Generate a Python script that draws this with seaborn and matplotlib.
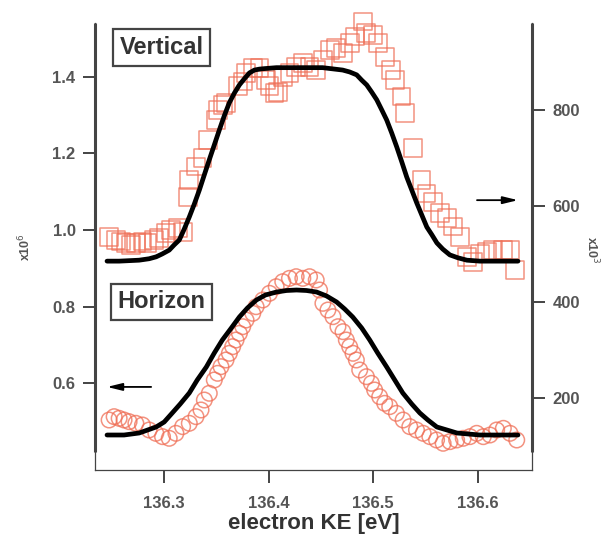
import matplotlib
matplotlib.use("Agg")
import matplotlib.pyplot as plt
import seaborn as sns

# ---- horizontally polarised signal (left axis, x10^6) ----
horizon_ke = [136.2473, 136.2521, 136.2569, 136.2616, 136.2664, 136.2729, 136.2792, 136.2856,
              136.2920, 136.2984, 136.3048, 136.3112, 136.3176, 136.3240, 136.3304, 136.3352,
              136.3384, 136.3431, 136.3479, 136.3511, 136.3543, 136.3591, 136.3623, 136.3655,
              136.3687, 136.3719, 136.3751, 136.3783, 136.3847, 136.3879, 136.3943, 136.4007,
              136.4071, 136.4134, 136.4198, 136.4262, 136.4326, 136.4390, 136.4454, 136.4486,
              136.4518, 136.4566, 136.4614, 136.4662, 136.4710, 136.4742, 136.4774, 136.4806,
              136.4838, 136.4870, 136.4934, 136.4982, 136.5013, 136.5061, 136.5109, 136.5157,
              136.5221, 136.5285, 136.5349, 136.5413, 136.5477, 136.5541, 136.5605, 136.5668,
              136.5733, 136.5797, 136.5860, 136.5924, 136.5989, 136.6052, 136.6116, 136.6180,
              136.6244, 136.6308, 136.6372]
horizon_counts = [0.5048, 0.5135, 0.5092, 0.5048, 0.5005, 0.4962, 0.4918, 0.4788,
                  0.4701, 0.4614, 0.4571, 0.4701, 0.4875, 0.4962, 0.5135, 0.5309,
                  0.5569, 0.5744, 0.6091, 0.6265, 0.6438, 0.6612, 0.6786, 0.6959,
                  0.7133, 0.7307, 0.7480, 0.7654, 0.7828, 0.8001, 0.8176, 0.8350,
                  0.8523, 0.8653, 0.8740, 0.8783, 0.8740, 0.8783, 0.8697, 0.8436,
                  0.8089, 0.7915, 0.7741, 0.7480, 0.7350, 0.7133, 0.6959, 0.6786,
                  0.6612, 0.6351, 0.6177, 0.6004, 0.5830, 0.5656, 0.5483, 0.5396,
                  0.5222, 0.5048, 0.4875, 0.4788, 0.4701, 0.4614, 0.4527, 0.4441,
                  0.4484, 0.4527, 0.4571, 0.4614, 0.4701, 0.4614, 0.4657, 0.4788,
                  0.4831, 0.4701, 0.4527]
horizon_fit_ke = [136.2453, 136.2616, 136.2760, 136.2923, 136.3000, 136.3077, 136.3153,
                  136.3240, 136.3316, 136.3403, 136.3479, 136.3556, 136.3642, 136.3719,
                  136.3796, 136.3882, 136.3968, 136.4074, 136.4170, 136.4266, 136.4361,
                  136.4457, 136.4553, 136.4649, 136.4726, 136.4803, 136.4889, 136.4966,
                  136.5042, 136.5128, 136.5205, 136.5282, 136.5368, 136.5445, 136.5522,
                  136.5608, 136.5704, 136.5800, 136.6020, 136.6384]
horizon_fit = [0.4657, 0.4657, 0.4709, 0.4866, 0.4996, 0.5231, 0.5465,
               0.5752, 0.6091, 0.6430, 0.6794, 0.7133, 0.7446, 0.7733,
               0.7967, 0.8176, 0.8306, 0.8384, 0.8423, 0.8436, 0.8423,
               0.8384, 0.8280, 0.8124, 0.7941, 0.7733, 0.7446, 0.7133,
               0.6794, 0.6430, 0.6091, 0.5752, 0.5465, 0.5231, 0.5048,
               0.4866, 0.4788, 0.4709, 0.4657, 0.4657]

# ---- vertically polarised signal (right axis, x10^3) ----
vertical_ke = [136.2473, 136.2537, 136.2585, 136.2633, 136.2681, 136.2729, 136.2792, 136.2840,
               136.2904, 136.2952, 136.3016, 136.3064, 136.3128, 136.3176, 136.3224, 136.3240,
               136.3304, 136.3367, 136.3415, 136.3496, 136.3511, 136.3559, 136.3591, 136.3703,
               136.3751, 136.3783, 136.3847, 136.3911, 136.3975, 136.4007, 136.4055, 136.4087,
               136.4134, 136.4198, 136.4262, 136.4326, 136.4390, 136.4454, 136.4518, 136.4582,
               136.4646, 136.4710, 136.4774, 136.4822, 136.4901, 136.4934, 136.4997, 136.5045,
               136.5109, 136.5173, 136.5205, 136.5269, 136.5301, 136.5381, 136.5461, 136.5509,
               136.5573, 136.5637, 136.5701, 136.5764, 136.5828, 136.5893, 136.5956, 136.6020,
               136.6084, 136.6148, 136.6244, 136.6308, 136.6356]
vertical_counts = [536, 529, 526, 522, 519, 522, 526, 522,
                   529, 533, 543, 550, 554, 546, 619, 654,
                   682, 699, 738, 779, 800, 810, 814, 849,
                   859, 876, 887, 887, 862, 849, 835, 838,
                   869, 876, 890, 897, 890, 883, 904, 925,
                   929, 918, 939, 953, 984, 960, 956, 939,
                   911, 883, 862, 828, 793, 720, 654, 626,
                   609, 585, 574, 557, 536, 494, 484, 501,
                   505, 508, 508, 508, 467]
vertical_fit_ke = [136.2453, 136.2569, 136.2760, 136.2856, 136.2923, 136.2981, 136.3048,
                   136.3096, 136.3144, 136.3192, 136.3240, 136.3288, 136.3336, 136.3384,
                   136.3431, 136.3479, 136.3527, 136.3575, 136.3623, 136.3671, 136.3719,
                   136.3767, 136.3815, 136.3863, 136.3911, 136.3959, 136.4074, 136.4198,
                   136.4390, 136.4515, 136.4630, 136.4707, 136.4774, 136.4841, 136.4889,
                   136.4937, 136.4985, 136.5033, 136.5081, 136.5128, 136.5176, 136.5224,
                   136.5272, 136.5320, 136.5368, 136.5416, 136.5464, 136.5512, 136.5560,
                   136.5608, 136.5665, 136.5732, 136.5809, 136.5895, 136.6020, 136.6384]
vertical_fit = [485, 485, 487, 490, 494, 500, 508,
                519, 529, 552, 577, 604, 633, 665,
                696, 727, 758, 788, 815, 835, 852,
                865, 877, 883, 885, 886, 888, 888,
                888, 888, 885, 883, 879, 873, 862,
                852, 837, 821, 800, 779, 752, 723,
                692, 660, 633, 606, 581, 556, 540,
                523, 510, 498, 492, 487, 485, 485]

x_ticks = [136.3, 136.4, 136.5, 136.6]
left_ticks = [0.6, 0.8, 1.0, 1.2, 1.4]
right_ticks = [200, 400, 600, 800]

sns.set_style("white")
plt.rcParams["font.family"] = ["Liberation Sans", "DejaVu Sans"]

marker_col = "#ef6e55"
axis_col = "#444444"
text_col = "#333333"

fig = plt.figure(figsize=(6.09, 5.38), dpi=100)
ax = fig.add_axes([95 / 609, 1 - 470 / 538, 437 / 609, 447 / 538])
ax2 = ax.twinx()

ax.set_xlim(136.2338, 136.6518)
ax.set_ylim(0.3745, 1.5395)
ax2.set_ylim(50, 981)

# horizon data + fit
sns.scatterplot(x=horizon_ke, y=horizon_counts, ax=ax, marker="o", s=125,
                linewidth=1.1, alpha=0.75, zorder=2, legend=False)
ax.collections[-1].set_facecolor("none")
ax.collections[-1].set_edgecolor(marker_col)
sns.lineplot(x=horizon_fit_ke, y=horizon_fit, ax=ax, color="black", lw=3.4,
             zorder=3, sort=False, legend=False)

# vertical data + fit
sns.scatterplot(x=vertical_ke, y=vertical_counts, ax=ax2, marker="s", s=165,
                linewidth=1.1, alpha=0.75, zorder=2, legend=False, clip_on=False)
ax2.collections[-1].set_facecolor("none")
ax2.collections[-1].set_edgecolor(marker_col)
sns.lineplot(x=vertical_fit_ke, y=vertical_fit, ax=ax2, color="black", lw=3.4,
             zorder=3, sort=False, legend=False)
for ln in ax.lines + ax2.lines:
    ln.set_solid_capstyle("round")
    ln.set_solid_joinstyle("round")

# axis frame: thin box round the bottom, thick value axes
for a in (ax, ax2):
    a.spines["top"].set_visible(False)
    for s in ("left", "right", "bottom"):
        a.spines[s].set_color(axis_col)
        a.spines[s].set_linewidth(0.9)
ax.spines["right"].set_visible(False)
ax2.spines["left"].set_visible(False)
ax2.spines["bottom"].set_visible(False)
gap = 18 / 447
ax.plot([0, 0], [gap, 1], transform=ax.transAxes, color=axis_col, lw=2.2,
        clip_on=False, solid_capstyle="butt", zorder=5)
ax2.plot([1, 1], [gap, 1], transform=ax2.transAxes, color=axis_col, lw=2.2,
         clip_on=False, solid_capstyle="butt", zorder=5)

tick_font = dict(fontsize=12, fontweight="bold", color="#555555")
ax.set_xticks(x_ticks)
ax.set_xticklabels([f"{v:.1f}" for v in x_ticks], **tick_font)
ax.set_yticks(left_ticks)
ax.set_yticklabels([f"{v:.1f}" for v in left_ticks], **tick_font)
ax2.set_yticks(right_ticks)
ax2.set_yticklabels([str(v) for v in right_ticks], **tick_font)
ax.tick_params(axis="x", direction="out", length=9, width=1.4, color=axis_col,
               pad=10, bottom=True)
ax.tick_params(axis="y", direction="out", length=9, width=1.4, color=axis_col,
               pad=5, left=True)
ax2.tick_params(axis="y", direction="out", length=9, width=1.4, color=axis_col,
                pad=6, right=True)

ax.set_xlabel("electron KE [eV]", fontsize=16, fontweight="bold", color=text_col,
              labelpad=1)

fig.text(25 / 609, 1 - 247 / 538, r"x10$^{6}$", rotation=90, fontsize=9,
         color="#555555", ha="center", va="center", fontweight="bold")
fig.text(592 / 609, 1 - 250 / 538, r"x10$^{3}$", rotation=-90, fontsize=9,
         color="#555555", ha="center", va="center", fontweight="bold")

box = dict(boxstyle="square,pad=0.28", facecolor="white", edgecolor=axis_col, lw=1.6)
ax.text(0.152, 0.945, "Vertical", transform=ax.transAxes, fontsize=17,
        fontweight="bold", color=text_col, ha="center", va="center", bbox=box, zorder=6)
ax.text(0.153, 0.376, "Horizon", transform=ax.transAxes, fontsize=17,
        fontweight="bold", color=text_col, ha="center", va="center", bbox=box, zorder=6)

arrow = dict(arrowstyle="-|>,head_length=0.9,head_width=0.22", color="black", lw=1.3,
             shrinkA=0, shrinkB=0)
ax2.annotate("", xy=(136.6384, 612), xytext=(136.5992, 612), arrowprops=arrow)
ax.annotate("", xy=(136.2453, 0.591), xytext=(136.2875, 0.591), arrowprops=arrow)

fig.savefig("out.png", dpi=100)
